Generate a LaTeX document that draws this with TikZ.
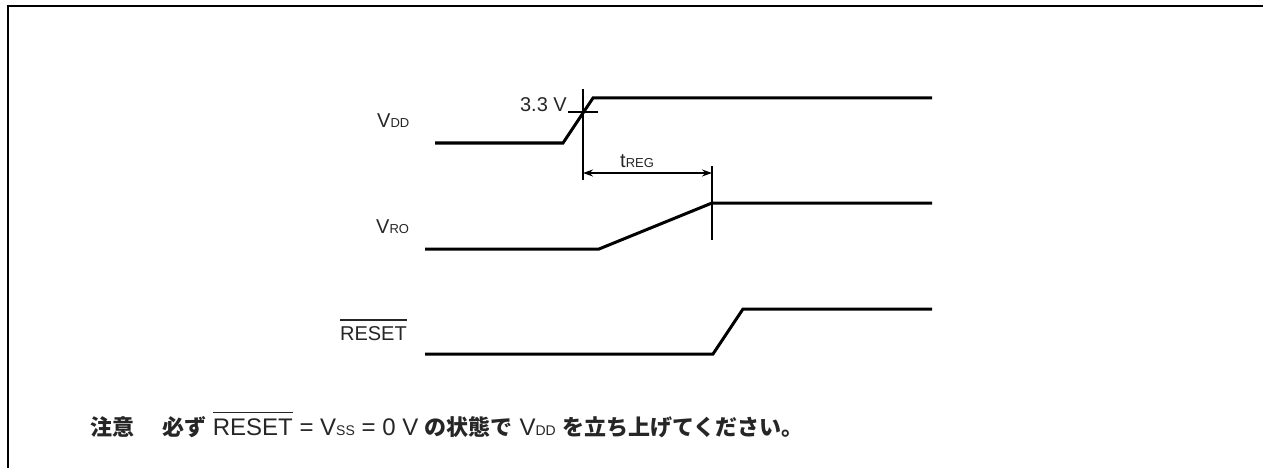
\documentclass[tikz,border=0pt]{standalone}
\usepackage{fontspec}
\setmainfont{Liberation Sans}
\newfontfamily\jp{Noto Sans CJK JP}
\usetikzlibrary{arrows.meta}

\newcommand{\lowtext}[2][13]{{\fontsize{#1}{#1}\selectfont #2}}
\newcommand{\barred}[1]{\vbox{\hrule height 1.2pt\kern 5.5pt\hbox{#1}}}
\newcommand{\jpb}[1]{{\jp\bfseries\fontsize{22}{22}\selectfont #1}}

\begin{document}
\begin{tikzpicture}[x=1pt, y=-1pt,
    signal/.style={line width=3pt, line join=miter},
    guide/.style={line width=1.1pt},
    siglabel/.style={inner sep=0pt, font=\fontsize{20}{20}\selectfont, text=black!85}]
    \useasboundingbox (0,0) rectangle (1263,468);

    % Frame
    \draw[line width=2.7pt] (8,475) -- (8,6) -- (1270,6);

    % Labels
    \node[siglabel, anchor=base west] (vdd) at (377,128) {V\lowtext{DD}};
    \node[siglabel, anchor=base west] (vro) at (376,233) {V\lowtext{RO}};
    \node[siglabel, anchor=base east] (rst) at (407,340) {\barred{RESET}};
    \node[siglabel, anchor=base east] (lvl) at (567,112) {3.3 V};
    \node[siglabel, anchor=base west] (treg) at (620,167) {t\lowtext{REG}};

    % Signals
    \draw[signal] (435,143) -- (563,143) -- (593,98) -- (932,98);
    \draw[signal] (425,249) -- (599,249) -- (712,203) -- (932,203);
    \draw[signal] (425,354) -- (713,354) -- (743,309) -- (932,309);

    % Timing
    \draw[guide] (583,89) -- (583,180);
    \draw[guide] (568,112) -- (598,112);
    \draw[guide] (712,166) -- (712,240);
    \coordinate (tstart) at (583,173);
    \coordinate (tend) at (712,173);
    \draw[guide, {Stealth[length=10pt, width=7pt, inset=3.5pt]}-{Stealth[length=10pt, width=7pt, inset=3.5pt]}] (tstart) -- (tend);

    % Note
    \node[anchor=base west, inner sep=0pt, font=\fontsize{24}{24}\selectfont, text=black!85] (note) at (90,435)
        {\jpb{注意\hspace{28pt}必ず} \barred{RESET} = V\lowtext[14]{SS} = 0 V \jpb{の状態で} V\lowtext[14]{DD} \jpb{を立ち上げてください。}};
\end{tikzpicture}
\end{document}
